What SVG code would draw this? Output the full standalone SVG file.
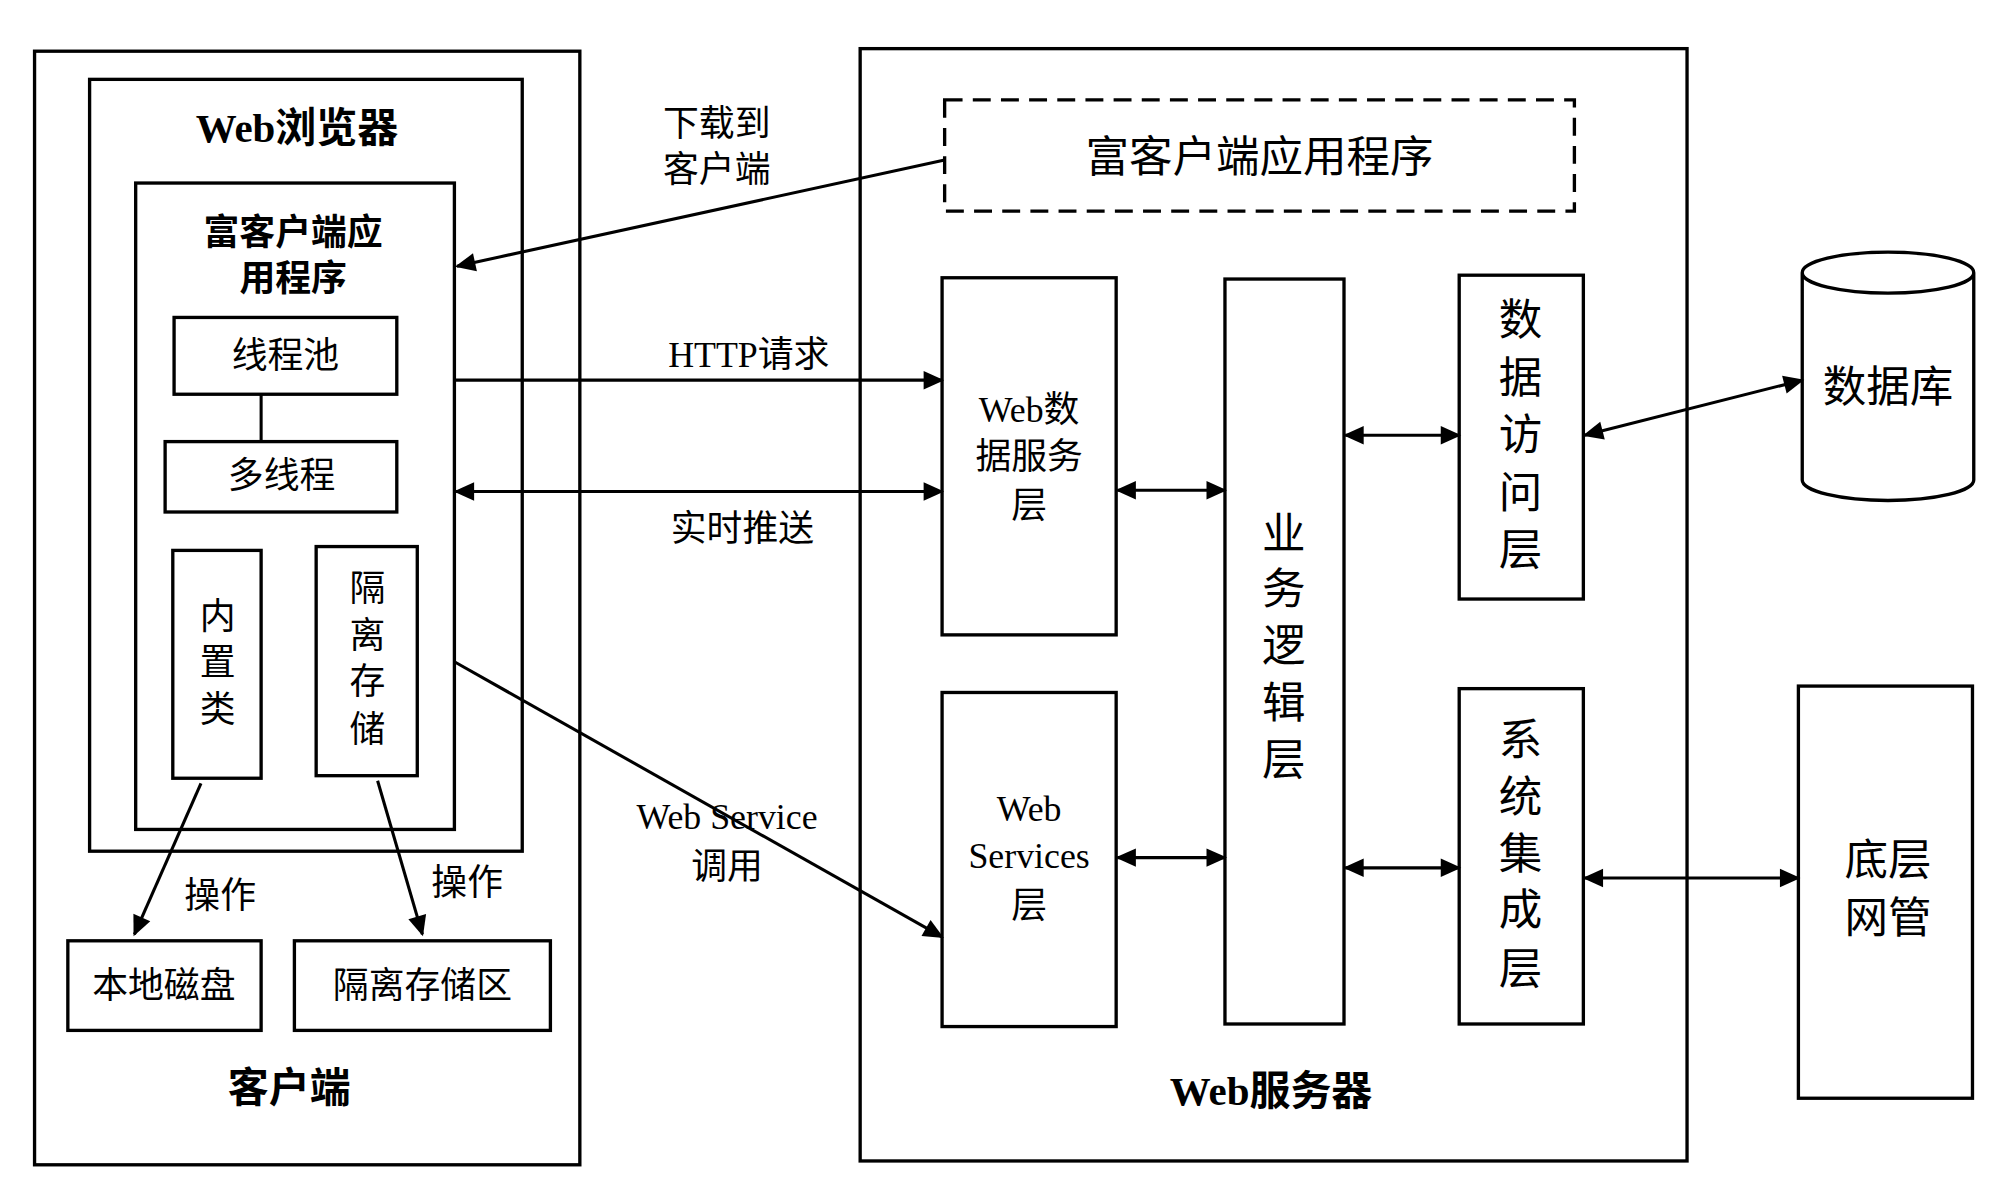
<svg xmlns="http://www.w3.org/2000/svg" width="2007" height="1190" viewBox="0 0 2007 1190">
<style>
.b{fill:none;stroke:#000;stroke-width:2.6}
.c{stroke:#000;stroke-width:2.4;fill:none}
text{font-family:"Liberation Serif","Noto Sans CJK SC",serif;font-size:28px;text-anchor:middle;dominant-baseline:central;fill:#000}
.t{font-weight:bold;font-size:32px}
.l{font-size:34px}
</style>
<defs>
<marker id="a" viewBox="0 0 10 10" refX="9" refY="5" markerWidth="20" markerHeight="16" markerUnits="userSpaceOnUse" orient="auto-start-reverse"><path d="M0,0.5 L10,5 L0,9.5 z" fill="#000"/></marker>
</defs>
<rect width="2007" height="1190" fill="#fff"/>
<g transform="scale(1.28)">
<g id="client"><rect class="b" x="27" y="40" width="426" height="870"/><text class="t" x="226" y="850">客户端</text></g>
<g id="browser"><rect class="b" x="70" y="62" width="338" height="603"/><text class="t" x="232" y="100">Web浏览器</text></g>
<g id="richapp"><rect class="b" x="106" y="143" width="249" height="505"/><text x="229" y="182" font-weight="bold">富客户端应</text><text x="229" y="218" font-weight="bold">用程序</text></g>
<g id="pool"><rect class="b" x="136" y="248" width="174" height="60"/><text x="223" y="278">线程池</text></g>
<g id="mt"><rect class="b" x="129" y="345" width="181" height="55"/><text x="220" y="372">多线程</text></g>
<g id="builtin"><rect class="b" x="135" y="430" width="69" height="178"/><text x="170" y="482">内</text><text x="170" y="518">置</text><text x="170" y="555">类</text></g>
<g id="iso"><rect class="b" x="247" y="427" width="79" height="179"/><text x="287" y="460">隔</text><text x="287" y="497">离</text><text x="287" y="533">存</text><text x="287" y="570">储</text></g>
<g id="disk"><rect class="b" x="53" y="735" width="151" height="70"/><text x="128" y="770">本地磁盘</text></g>
<g id="isoarea"><rect class="b" x="230" y="735" width="200" height="70"/><text x="330" y="770">隔离存储区</text></g>
<g id="server"><rect class="b" x="672" y="38" width="646" height="869"/><text class="t" x="993" y="852">Web服务器</text></g>
<g id="richsrv"><rect class="b" x="738" y="78" width="492" height="87" stroke-dasharray="14,8"/><text class="l" x="984" y="123">富客户端应用程序</text></g>
<g id="wds"><rect class="b" x="736" y="217" width="136" height="279"/><text x="804" y="320">Web数</text><text x="804" y="357">据服务</text><text x="804" y="395">层</text></g>
<g id="ws"><rect class="b" x="736" y="541" width="136" height="261"/><text x="804" y="632">Web</text><text x="804" y="669">Services</text><text x="804" y="708">层</text></g>
<g id="biz"><rect class="b" x="957" y="218" width="93" height="582"/><text class="l" x="1003" y="417">业</text><text class="l" x="1003" y="460">务</text><text class="l" x="1003" y="505">逻</text><text class="l" x="1003" y="549">辑</text><text class="l" x="1003" y="594">层</text></g>
<g id="dal"><rect class="b" x="1140" y="215" width="97" height="253"/><text class="l" x="1188" y="250">数</text><text class="l" x="1188" y="295">据</text><text class="l" x="1188" y="340">访</text><text class="l" x="1188" y="385">问</text><text class="l" x="1188" y="430">层</text></g>
<g id="sys"><rect class="b" x="1140" y="538" width="97" height="262"/><text class="l" x="1188" y="578">系</text><text class="l" x="1188" y="623">统</text><text class="l" x="1188" y="667">集</text><text class="l" x="1188" y="711">成</text><text class="l" x="1188" y="757">层</text></g>
<g id="db"><path class="b" d="M1408,213 L1408,375 A67,16 0 0 0 1542,375 L1542,213 A67,16 0 0 0 1408,213 A67,16 0 0 0 1542,213"/><text class="l" x="1475" y="302">数据库</text></g>
<g id="net"><rect class="b" x="1405" y="536" width="136" height="322"/><text class="l" x="1475" y="672">底层</text><text class="l" x="1475" y="717">网管</text></g>
<g id="connectors">
<line class="c" x1="204" y1="308" x2="204" y2="345"/>
<line class="c" x1="157" y1="612" x2="105" y2="730" marker-end="url(#a)"/>
<line class="c" x1="295" y1="610" x2="330" y2="730" marker-end="url(#a)"/>
<text x="172" y="700">操作</text><text x="365" y="690">操作</text>
<line class="c" x1="738" y1="125" x2="357" y2="208" marker-end="url(#a)"/>
<text x="560" y="97">下载到</text><text x="560" y="133">客户端</text>
<line class="c" x1="355" y1="297" x2="736" y2="297" marker-end="url(#a)"/>
<text x="585" y="277">HTTP请求</text>
<line class="c" x1="356" y1="384" x2="736" y2="384" marker-start="url(#a)" marker-end="url(#a)"/>
<text x="580" y="413">实时推送</text>
<line class="c" x1="355" y1="517" x2="736" y2="732" marker-end="url(#a)"/>
<text x="568" y="638">Web Service</text><text x="568" y="677">调用</text>
<line class="c" x1="873" y1="383" x2="957" y2="383" marker-start="url(#a)" marker-end="url(#a)"/>
<line class="c" x1="873" y1="670" x2="957" y2="670" marker-start="url(#a)" marker-end="url(#a)"/>
<line class="c" x1="1051" y1="340" x2="1140" y2="340" marker-start="url(#a)" marker-end="url(#a)"/>
<line class="c" x1="1051" y1="678" x2="1140" y2="678" marker-start="url(#a)" marker-end="url(#a)"/>
<line class="c" x1="1238" y1="340" x2="1408" y2="297" marker-start="url(#a)" marker-end="url(#a)"/>
<line class="c" x1="1238" y1="686" x2="1405" y2="686" marker-start="url(#a)" marker-end="url(#a)"/>
</g>
</g>
</svg>
